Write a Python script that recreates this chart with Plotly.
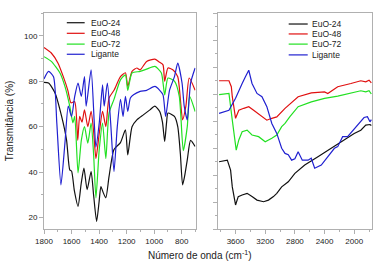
import plotly.graph_objects as go

# ---------------- Left panel (1800-700 cm-1) ----------------
x_e24_L = [1800, 1767, 1720, 1672, 1636, 1613, 1600, 1580, 1553, 1530, 1510, 1487, 1458, 1440, 1418, 1400, 1387, 1370, 1351, 1328, 1292, 1245, 1209, 1192, 1161, 1126, 1079, 1031, 995, 960, 940, 924, 910, 900, 853, 829, 810, 794, 780, 760, 736, 703]
y_e24_L = [79.5, 79.2, 74.8, 64.5, 54, 41, 40.5, 32, 25, 35, 41.8, 32.3, 40.3, 30, 18.3, 27, 33.7, 31, 28.7, 38, 50, 53, 58.6, 47.6, 60, 63, 65.2, 67.4, 69, 66.7, 62, 53.5, 62, 66, 64.5, 60, 48, 34.4, 38, 45.4, 54, 51.3]

x_e48_L = [1800, 1747, 1699, 1660, 1627, 1604, 1577, 1555, 1541, 1524, 1506, 1482, 1458, 1440, 1423, 1399, 1375, 1351, 1328, 1292, 1245, 1209, 1192, 1161, 1126, 1102, 1055, 995, 960, 936, 924, 900, 865, 829, 810, 794, 770, 746, 703]
y_e48_L = [94.8, 92.4, 88, 82, 76, 70.5, 71, 54, 64.5, 62, 67.4, 60, 66.7, 58, 46, 57, 66.7, 60, 72.6, 76, 82, 83.7, 77.7, 84.3, 85.8, 85, 88.7, 89.7, 88.3, 87.2, 80, 85.8, 85, 82, 72, 63, 69, 81.4, 76]

x_e72_L = [1800, 1747, 1684, 1648, 1613, 1590, 1577, 1553, 1529, 1506, 1482, 1458, 1440, 1423, 1399, 1375, 1351, 1328, 1292, 1245, 1209, 1192, 1161, 1102, 1055, 995, 948, 924, 900, 853, 818, 789, 760, 743, 703]
y_e72_L = [90.8, 88.7, 83.6, 77.7, 69, 61.7, 64.5, 39.7, 54, 60, 52.8, 61.6, 48, 28.7, 50, 61.6, 46, 66, 72, 80.6, 82.8, 76, 83.6, 84.3, 85.3, 86.5, 83.6, 74, 81.4, 80, 73.3, 49.5, 60, 73.3, 66.7]

x_lig_L = [1800, 1767, 1731, 1707, 1677, 1648, 1624, 1600, 1577, 1553, 1529, 1506, 1494, 1458, 1435, 1423, 1399, 1375, 1363, 1340, 1316, 1292, 1268, 1245, 1226, 1209, 1192, 1173, 1150, 1102, 1055, 995, 960, 936, 917, 889, 853, 829, 798, 782, 760, 736, 703]
y_lig_L = [81, 84.3, 82, 61.6, 34.4, 52.8, 69, 64.5, 73.3, 79.2, 73.3, 82, 69, 85, 61.6, 51, 61.6, 78.4, 69, 79.2, 61.6, 40.3, 60, 72, 64.5, 73.3, 66.7, 72.6, 74, 75.5, 76, 77.7, 76, 74, 64.5, 76, 82, 88, 79.2, 69, 63, 79.2, 85.8]

# ---------------- Right panel (3830-1760 cm-1) ----------------
x_e24_R = [3822, 3711, 3667, 3644, 3600, 3564, 3511, 3444, 3378, 3311, 3222, 3156, 3089, 3044, 2978, 2889, 2800, 2667, 2489, 2311, 2133, 2000, 1911, 1844, 1787, 1769]
y_e24_R = [24.9, 25.5, 21.8, 15.6, 8.9, 12, 12.6, 13.2, 12, 10.7, 10.1, 10.7, 12, 13.2, 15.6, 17.5, 20.6, 23.7, 26.8, 29.9, 32.9, 35.4, 36.6, 38.5, 38.7, 38.3]

x_e48_R = [3822, 3689, 3657, 3644, 3600, 3556, 3489, 3422, 3356, 3267, 3178, 3111, 3044, 2933, 2800, 2756, 2578, 2400, 2356, 2222, 2044, 1911, 1844, 1800, 1769]
y_e48_R = [54.9, 54.9, 52.7, 49, 41, 44, 44.7, 45.3, 44, 42.2, 40.3, 41, 41.5, 44.7, 48, 49, 50.4, 50.8, 50.2, 52.7, 53.9, 54.9, 54.5, 55.1, 54.1]

x_e72_R = [3822, 3689, 3644, 3591, 3556, 3511, 3444, 3378, 3289, 3200, 3111, 3044, 2978, 2933, 2867, 2800, 2756, 2578, 2400, 2222, 2044, 1911, 1844, 1800, 1769]
y_e72_R = [49.8, 50.2, 40.3, 29.2, 33, 36, 36.6, 34.8, 34.2, 32.3, 33.6, 34.8, 37.9, 39.1, 41.6, 44, 45.3, 47.1, 48.4, 49.2, 50.2, 51.2, 50.8, 51.2, 50]

x_lig_R = [3822, 3689, 3600, 3556, 3511, 3467, 3422, 3378, 3311, 3244, 3178, 3111, 3044, 2978, 2933, 2889, 2844, 2800, 2756, 2700, 2622, 2580, 2533, 2444, 2356, 2267, 2222, 2156, 2089, 1956, 1867, 1822, 1787, 1769]
y_lig_R = [42.8, 44, 48.4, 51.4, 53.9, 56.4, 58.8, 53.9, 50.2, 49, 45.3, 39.1, 35.4, 29.9, 28, 27.5, 25.5, 26, 28.6, 25.5, 25.5, 26.2, 22.5, 23.7, 26.8, 29.9, 30.5, 34.2, 34.2, 38.5, 41.3, 41.6, 39.7, 40.5]

names = ["EuO-24", "EuO-48", "EuO-72", "Ligante"]
colors = ["#111111", "#e01010", "#22e022", "#2020d0"]

left_x = [x_e24_L, x_e48_L, x_e72_L, x_lig_L]
left_y = [y_e24_L, y_e48_L, y_e72_L, y_lig_L]
right_x = [x_e24_R, x_e48_R, x_e72_R, x_lig_R]
right_y = [y_e24_R, y_e48_R, y_e72_R, y_lig_R]

fig = go.Figure()
for n, c, xs, ys in zip(names, colors, left_x, left_y):
    fig.add_trace(go.Scatter(x=xs, y=ys, mode="lines", name=n, showlegend=False,
                             line=dict(color=c, width=1.2, shape="spline", smoothing=0.6),
                             xaxis="x", yaxis="y"))
for n, c, xs, ys in zip(names, colors, right_x, right_y):
    fig.add_trace(go.Scatter(x=xs, y=ys, mode="lines", name=n, showlegend=False,
                             line=dict(color=c, width=1.2),
                             xaxis="x2", yaxis="y2"))

FAM = "Arial, Liberation Sans, sans-serif"
axcol = "#b0b0b0"
font = dict(family=FAM, size=8, color="#222")
common = dict(showgrid=False, zeroline=False, showline=True, linecolor=axcol, linewidth=1, mirror=True,
              ticks="outside", ticklen=4, tickcolor=axcol, tickfont=font)

# legend boxes (paper coords): swatch start, swatch end, text x, row y's
legend_specs = [
    dict(x0=0.0695, x1=0.124, xt=0.137, rows=[0.955, 0.906, 0.856, 0.809]),
    dict(x0=0.746, x1=0.804, xt=0.811, rows=[0.949, 0.903, 0.856, 0.806]),
]
shapes, annotations = [], []
for spec in legend_specs:
    for n, c, yy in zip(names, colors, spec["rows"]):
        shapes.append(dict(type="line", xref="paper", yref="paper", x0=spec["x0"], x1=spec["x1"], y0=yy, y1=yy,
                           line=dict(color=c, width=1.2)))
        annotations.append(dict(text=n, x=spec["xt"], y=yy, xref="paper", yref="paper", xanchor="left",
                                yanchor="middle", showarrow=False, font=dict(family=FAM, size=8.5, color="#222")))

annotations.append(dict(text="Número de onda (cm<sup>-1</sup>)", x=0.477, y=-0.12, xref="paper", yref="paper",
                        xanchor="center", yanchor="middle", showarrow=False,
                        font=dict(family=FAM, size=10, color="#222")))

fig.update_layout(
    width=382, height=267,
    margin=dict(l=42, r=9, t=13, b=38),
    paper_bgcolor="white", plot_bgcolor="white",
    font=font, showlegend=False, hovermode=False,
    xaxis=dict(domain=[0, 0.462], range=[1800, 700], tickvals=[1800, 1600, 1400, 1200, 1000, 800],
               minor=dict(dtick=100, ticklen=2, tickcolor=axcol, ticks="outside"), anchor="y", **common),
    yaxis=dict(domain=[0, 1], range=[15, 110], tickvals=[20, 40, 60, 80, 100],
               minor=dict(dtick=10, ticklen=2, tickcolor=axcol, ticks="outside"), anchor="x",
               title=dict(text="Transmitância (%)", font=dict(family=FAM, size=10, color="#222"), standoff=8),
               **common),
    xaxis2=dict(domain=[0.532, 1], range=[3830, 1760], tickvals=[3600, 3200, 2800, 2400, 2000],
                minor=dict(dtick=200, ticklen=2, tickcolor=axcol, ticks="outside"), anchor="y2", **common),
    yaxis2=dict(domain=[0, 1], range=[0, 80], tickvals=[0, 10, 20, 30, 40, 50, 60, 70, 80], showticklabels=False,
                minor=dict(dtick=5, ticklen=2, tickcolor=axcol, ticks="outside"), anchor="x2", **common),
    shapes=shapes,
    annotations=annotations,
)

fig.write_html("out.html", config={"displayModeBar": False, "staticPlot": True},
               post_script="document.body.style.margin='0';document.body.style.padding='0';")
